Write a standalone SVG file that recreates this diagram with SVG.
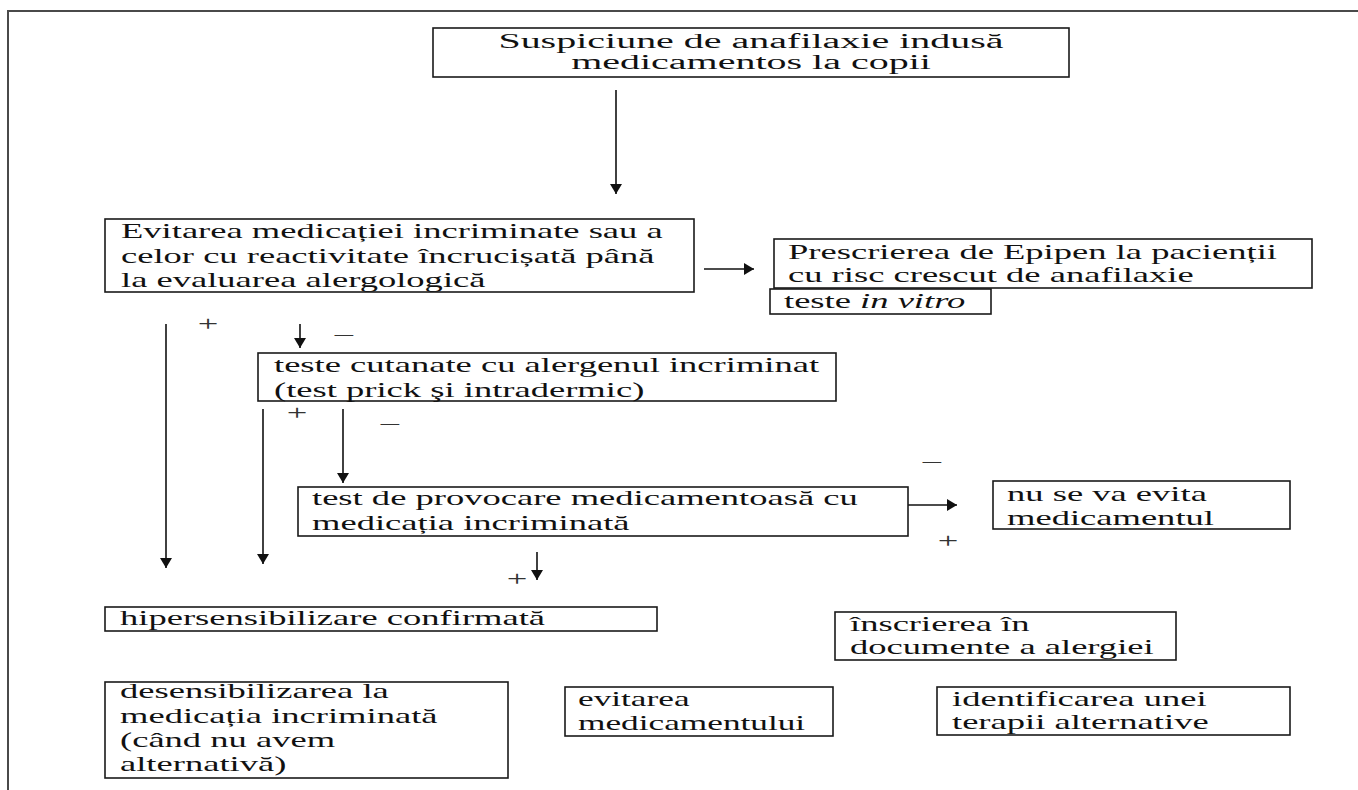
<svg xmlns="http://www.w3.org/2000/svg" width="1358" height="790" viewBox="0 0 1358 790">
<style>
.box{fill:#fff;stroke:#1a1a1a;stroke-width:1.6}
.t{font-family:"Liberation Serif","Times New Roman",serif;font-size:21px;fill:#111}
.s{font-family:"Liberation Serif","Times New Roman",serif;font-size:21px;fill:#333;text-anchor:middle}
.c{stroke:#111;stroke-width:1.6;fill:none}
.frame{stroke:#4a4a4a;stroke-width:2;fill:none}
</style>
<defs>
<marker id="ah" viewBox="0 0 10 12" refX="10" refY="6" markerWidth="10" markerHeight="12" markerUnits="userSpaceOnUse" orient="auto"><path d="M0,0 L10,6 L0,12 z" fill="#111"/></marker>
</defs>
<rect width="1358" height="790" fill="#fff"/>
<path class="frame" d="M8,790 L8,11 L1358,11"/>

<g id="connectors">
<line class="c" x1="616" y1="90" x2="616" y2="194" marker-end="url(#ah)"/>
<line class="c" x1="704" y1="269" x2="754" y2="269" marker-end="url(#ah)"/>
<line class="c" x1="166" y1="324" x2="166" y2="568" marker-end="url(#ah)"/>
<line class="c" x1="300" y1="324" x2="300" y2="348" marker-end="url(#ah)"/>
<line class="c" x1="263" y1="409" x2="263" y2="564" marker-end="url(#ah)"/>
<line class="c" x1="343" y1="409" x2="343" y2="483" marker-end="url(#ah)"/>
<line class="c" x1="908" y1="505" x2="957" y2="505" marker-end="url(#ah)"/>
<line class="c" x1="537" y1="552" x2="537" y2="580" marker-end="url(#ah)"/>
<text class="s" transform="translate(208 0) scale(1.74 1)" x="0" y="331">+</text>
<text class="s" transform="translate(344 0) scale(1.74 1)" x="0" y="341">–</text>
<text class="s" transform="translate(297 0) scale(1.74 1)" x="0" y="420">+</text>
<text class="s" transform="translate(390 0) scale(1.74 1)" x="0" y="430">–</text>
<text class="s" transform="translate(932 0) scale(1.74 1)" x="0" y="468">–</text>
<text class="s" transform="translate(948 0) scale(1.74 1)" x="0" y="548">+</text>
<text class="s" transform="translate(517 0) scale(1.74 1)" x="0" y="586">+</text>
</g>

<g id="node-suspiciune">
<rect class="box" x="433" y="28" width="636" height="49"/>
<text class="t" style="font-size:20px;text-anchor:middle" transform="translate(751 0) scale(2.0 1)"><tspan x="0" y="48">Suspiciune de anafilaxie indusă</tspan><tspan x="0" y="69">medicamentos la copii</tspan></text>
</g>

<g id="node-evitarea">
<rect class="box" x="105" y="219" width="589" height="73"/>
<text class="t" transform="translate(121 0) scale(1.74 1)"><tspan x="0" y="238">Evitarea medicației incriminate sau a</tspan><tspan x="0" y="263">celor cu reactivitate încrucișată până</tspan><tspan x="0" y="287">la evaluarea alergologică</tspan></text>
</g>

<g id="node-epipen">
<rect class="box" x="774" y="239" width="538" height="49"/>
<text class="t" transform="translate(788 0) scale(1.74 1)"><tspan x="0" y="259">Prescrierea de Epipen la pacienții</tspan><tspan x="0" y="282">cu risc crescut de anafilaxie</tspan></text>
</g>

<g id="node-invitro">
<rect class="box" x="770" y="289" width="221" height="25"/>
<text class="t" transform="translate(784 0) scale(1.74 1)" x="0" y="308">teste <tspan font-style="italic">in vitro</tspan></text>
</g>

<g id="node-cutanate">
<rect class="box" x="258" y="353" width="578" height="48"/>
<text class="t" transform="translate(274 0) scale(1.74 1)"><tspan x="0" y="372">teste cutanate cu alergenul incriminat</tspan><tspan x="0" y="397">(test prick şi intradermic)</tspan></text>
</g>

<g id="node-provocare">
<rect class="box" x="298" y="487" width="610" height="49"/>
<text class="t" transform="translate(312 0) scale(1.74 1)"><tspan x="0" y="505">test de provocare medicamentoasă cu</tspan><tspan x="0" y="530">medicația incriminată</tspan></text>
</g>

<g id="node-nuseva">
<rect class="box" x="993" y="481" width="297" height="48"/>
<text class="t" transform="translate(1007 0) scale(1.74 1)"><tspan x="0" y="501">nu se va evita</tspan><tspan x="0" y="525">medicamentul</tspan></text>
</g>

<g id="node-hiper">
<rect class="box" x="105" y="607" width="552" height="24"/>
<text class="t" transform="translate(120 0) scale(1.74 1)" x="0" y="625">hipersensibilizare confirmată</text>
</g>

<g id="node-inscrierea">
<rect class="box" x="835" y="612" width="341" height="48"/>
<text class="t" transform="translate(850 0) scale(1.74 1)"><tspan x="0" y="631">înscrierea în</tspan><tspan x="0" y="654">documente a alergiei</tspan></text>
</g>

<g id="node-desensibilizarea">
<rect class="box" x="105" y="682" width="403" height="96"/>
<text class="t" transform="translate(120 0) scale(1.74 1)"><tspan x="0" y="698">desensibilizarea la</tspan><tspan x="0" y="723">medicația incriminată</tspan><tspan x="0" y="747">(când nu avem</tspan><tspan x="0" y="771">alternativă)</tspan></text>
</g>

<g id="node-evitarea-med">
<rect class="box" x="565" y="687" width="268" height="49"/>
<text class="t" transform="translate(578 0) scale(1.68 1)"><tspan x="0" y="706">evitarea</tspan><tspan x="0" y="730">medicamentului</tspan></text>
</g>

<g id="node-alternativa">
<rect class="box" x="937" y="687" width="353" height="48"/>
<text class="t" transform="translate(952 0) scale(1.74 1)"><tspan x="0" y="706">identificarea unei</tspan><tspan x="0" y="729">terapii alternative</tspan></text>
</g>
</svg>
